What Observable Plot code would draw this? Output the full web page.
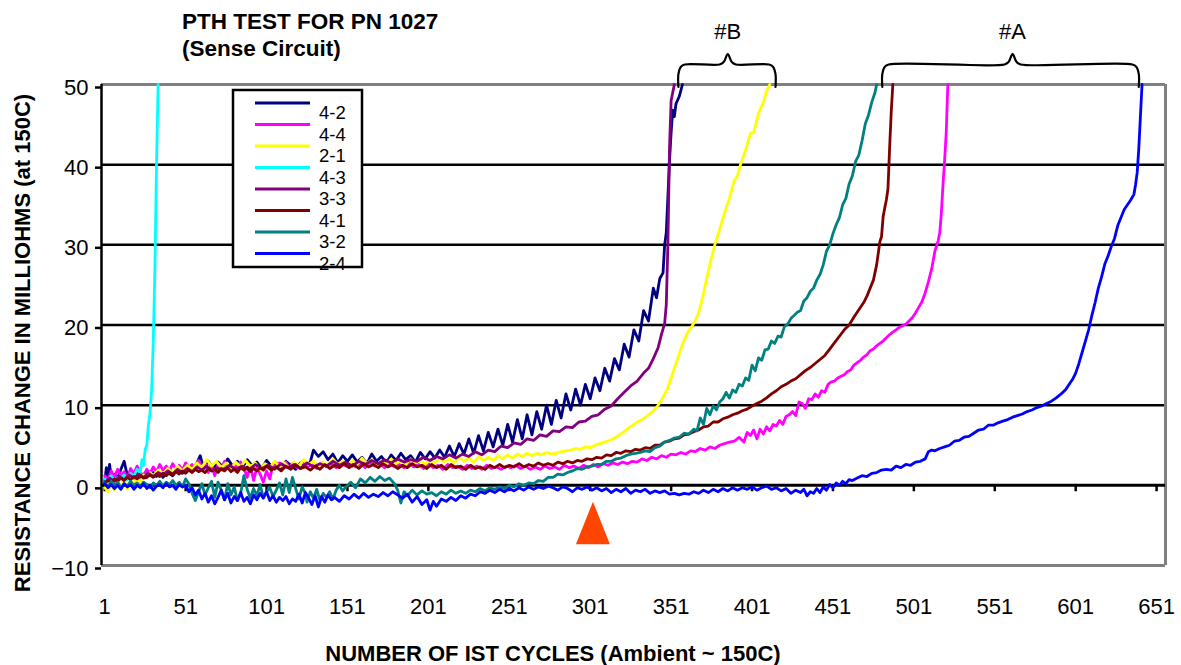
<!DOCTYPE html>
<html><head><meta charset="utf-8">
<script src="https://cdn.jsdelivr.net/npm/d3@7"></script>
<script src="https://cdn.jsdelivr.net/npm/@observablehq/plot@0.6"></script>
<style>
body{margin:0;background:#fff;}
#wrap{position:relative;width:1181px;height:665px;font-family:"Liberation Sans",Arial,sans-serif;}
#wrap svg{position:absolute;left:0;top:0;}
</style></head><body><div id="wrap"></div>
<script>
const seriesNames = ["4-2","4-4","2-1","4-3","3-3","4-1","3-2","2-4"];
const seriesColors = ["#000080","#FF00FF","#FFFF00","#00FFFF","#800080","#800000","#008080","#0000FF"];

const s42 = [[1,0.5],[2,2.2],[3,0.8],[4,2.6],[5,1.0],[7,1.4],[9,0.9],[11,2.0],[13,3.0],[15,1.2],[17,1.6],[19,1.0],[21,1.5],[23,0.9],[25,1.3],[27,1.8],[29,1.2],[31,1.6],[33,1.1],[35,1.5],[37,1.0],[40,1.6],[43,1.2],[46,2.0],[49,1.5],[52,2.4],[55,1.9],[58,2.8],[60,3.7],[62,2.2],[65,3.0],[68,2.0],[71,2.9],[74,2.3],[77,3.3],[80,2.4],[83,3.0],[86,2.2],[89,3.2],[92,2.5],[95,2.9],[98,2.1],[101,3.1],[104,2.4],[107,2.8],[110,2.2],[113,3.0],[116,2.5],[119,2.0],[122,2.8],[125,2.4],[128,2.9],[130,4.4],[133,3.6],[136,4.2],[139,3.2],[142,3.9],[145,2.8],[148,3.7],[151,3.0],[154,3.8],[157,2.9],[160,3.5],[163,2.7],[166,3.9],[169,3.0],[172,3.6],[175,2.8],[178,3.8],[181,3.1],[184,4.0],[187,3.2],[190,3.7],[193,2.9],[196,4.1],[199,3.3],[202,4.2],[205,3.4],[208,4.4],[211,3.5],[214,4.9],[217,3.6],[220,5.2],[223,3.9],[226,5.8],[229,4.0],[232,6.2],[235,4.3],[238,6.6],[241,4.8],[244,7.0],[247,5.0],[250,7.6],[253,5.4],[256,8.2],[259,5.8],[262,8.8],[265,6.3],[268,9.2],[271,7.0],[274,10.0],[277,7.6],[280,10.6],[283,8.4],[286,11.4],[289,9.4],[292,12.0],[295,10.0],[298,12.6],[301,10.8],[304,13.4],[307,11.8],[310,14.6],[313,13.0],[316,15.8],[319,14.4],[322,17.6],[325,16.0],[328,19.4],[331,18.0],[334,21.8],[337,20.5],[340,24.6],[342,23.4],[344,25.8],[346,26.5],[347,30.0],[348,31.5],[349,36.0],[350,40.5],[351,44.0],[352,46.8],[353,46.0],[354,47.6],[356,48.5],[358,50]];

const s44 = [[1,1.2],[3,0.6],[5,1.8],[7,1.0],[9,2.0],[11,1.2],[13,1.7],[15,0.9],[17,2.1],[19,1.4],[21,2.4],[23,1.6],[25,1.2],[27,2.0],[29,1.5],[31,2.3],[33,1.7],[35,2.6],[37,1.9],[39,2.4],[41,1.8],[43,2.7],[45,2.0],[47,2.5],[49,1.9],[51,2.8],[53,2.2],[55,2.6],[57,2.0],[59,3.1],[61,2.3],[63,2.8],[65,1.6],[67,2.5],[69,1.2],[71,2.7],[73,2.0],[75,3.0],[77,2.3],[79,1.8],[81,2.6],[83,2.1],[85,2.9],[87,2.2],[89,1.0],[91,2.5],[93,0.6],[95,2.2],[97,1.4],[99,0.4],[101,1.8],[103,0.8],[105,2.6],[107,2.2],[109,2.8],[111,2.3],[113,2.9],[115,2.1],[117,2.7],[120,2.2],[123,2.9],[126,2.3],[129,2.6],[132,2.1],[135,2.8],[138,2.3],[141,2.7],[144,2.2],[147,2.9],[150,2.4],[153,2.8],[156,2.3],[159,2.7],[162,2.2],[165,2.9],[168,2.4],[171,2.7],[174,2.2],[177,2.8],[180,2.3],[183,2.6],[186,2.2],[189,2.8],[192,2.3],[195,2.6],[198,2.1],[201,2.7],[204,2.2],[207,2.5],[210,2.0],[213,2.6],[216,2.2],[219,2.4],[222,2.0],[225,2.5],[228,2.1],[231,2.4],[234,2.0],[237,2.5],[240,2.1],[243,2.3],[246,2.0],[249,2.4],[252,2.2],[255,2.5],[258,2.1],[261,2.4],[264,2.0],[267,2.3],[270,2.0],[273,2.4],[276,2.1],[279,2.3],[282,2.0],[285,2.5],[288,2.2],[291,2.4],[294,2.1],[297,2.5],[300,2.2],[303,2.6],[306,2.3],[309,2.7],[312,2.5],[315,2.8],[318,2.6],[321,2.9],[324,2.7],[327,3.0],[330,2.9],[333,3.3],[336,3.1],[339,3.5],[342,3.3],[345,3.7],[348,3.5],[351,3.9],[354,3.8],[357,4.1],[360,3.9],[363,4.3],[366,4.2],[369,4.6],[372,4.4],[375,4.8],[378,4.6],[381,5.0],[384,5.2],[387,5.4],[390,5.5],[393,6.0],[396,5.4],[398,6.6],[400,6.2],[402,6.9],[404,5.8],[406,7.0],[408,6.4],[410,7.3],[412,6.8],[414,7.6],[416,7.4],[418,8.1],[420,7.6],[422,8.6],[424,8.8],[426,9.2],[428,8.7],[430,10.4],[432,10.2],[434,9.6],[436,10.8],[438,10.7],[440,11.4],[442,11.0],[444,11.8],[446,11.6],[448,12.6],[450,12.9],[452,13.0],[454,13.4],[456,13.6],[458,13.8],[460,14.2],[462,14.4],[464,15.0],[466,15.3],[468,15.6],[470,16.0],[472,16.3],[474,16.8],[476,17.0],[478,17.4],[480,17.7],[482,18.0],[484,18.4],[486,18.8],[488,19.1],[490,19.4],[492,19.7],[494,19.9],[496,20.1],[498,20.5],[500,20.9],[502,21.5],[504,22.2],[506,22.9],[508,24.0],[510,25.4],[512,27.0],[514,29.2],[516,30.5],[517,31.5],[518,34.0],[519,37.5],[520,40.5],[521,44.0],[522,50]];

const s21 = [[1,-0.3],[3,-0.8],[5,0.2],[7,-0.6],[9,0.5],[11,-0.2],[13,0.8],[15,-0.5],[17,0.6],[19,0.1],[21,1.0],[23,0.4],[25,1.3],[27,0.9],[29,1.6],[31,1.2],[34,1.9],[37,1.4],[40,2.1],[43,1.6],[46,2.4],[49,1.8],[52,2.5],[55,2.0],[58,2.8],[61,2.2],[64,3.2],[67,2.4],[70,3.0],[73,2.2],[76,2.8],[79,2.1],[82,2.9],[85,2.3],[88,3.1],[91,2.4],[94,2.8],[97,2.0],[100,2.7],[103,2.2],[106,3.0],[109,2.3],[112,2.8],[115,2.1],[118,2.9],[121,2.4],[124,3.2],[127,2.6],[130,3.0],[133,2.3],[136,2.9],[139,2.5],[142,3.3],[145,2.6],[148,3.0],[151,2.4],[154,3.1],[157,2.6],[160,3.4],[163,2.7],[166,3.2],[169,2.5],[172,3.0],[175,2.6],[178,3.3],[181,2.7],[184,3.1],[187,2.6],[190,3.3],[193,2.8],[196,3.1],[199,2.6],[202,3.2],[205,2.8],[208,3.4],[211,2.9],[214,3.3],[217,2.8],[220,3.5],[223,3.0],[226,3.4],[229,2.9],[232,3.6],[235,3.1],[238,3.5],[241,3.1],[244,3.7],[247,3.3],[250,3.8],[253,3.4],[256,3.9],[259,3.6],[262,4.0],[265,3.7],[268,4.0],[271,3.8],[274,4.1],[277,3.9],[280,4.0],[283,4.2],[286,4.3],[289,4.4],[292,4.6],[295,4.5],[298,4.8],[301,4.7],[304,5.0],[307,5.2],[310,5.4],[313,5.6],[316,5.9],[319,6.3],[322,6.7],[325,7.2],[328,7.6],[331,8.0],[334,8.3],[337,8.8],[340,9.3],[343,10.0],[346,11.0],[349,12.2],[352,14.0],[355,15.8],[358,17.6],[361,19.0],[363,19.6],[365,20.2],[368,21.5],[371,23.9],[373,25.8],[375,27.6],[378,30.0],[380,31.3],[382,32.6],[384,34.0],[387,35.8],[390,38.0],[392,38.6],[394,40.1],[397,41.8],[400,43.9],[402,44.0],[405,46.4],[408,47.8],[410,49.2],[412,50]];

const s43 = [[1,0.8],[3,0.5],[5,1.2],[7,0.6],[9,1.0],[11,0.9],[13,1.3],[15,0.7],[17,1.5],[19,1.1],[21,2.0],[23,1.6],[24,3.2],[25,2.5],[26,4.5],[27,5.0],[28,7.5],[29,9.0],[30,12.0],[31,18.0],[32,27.0],[33,40.0],[34,50]];

const s33 = [[1,0.3],[4,0.9],[7,0.5],[10,1.1],[13,0.7],[16,1.3],[19,0.9],[22,1.4],[25,1.0],[28,1.5],[31,1.1],[34,1.6],[37,1.3],[40,1.8],[43,1.4],[46,2.0],[49,1.6],[52,2.1],[55,1.7],[58,2.3],[61,1.9],[64,2.4],[67,1.8],[70,2.2],[74,1.9],[78,2.5],[82,2.0],[86,2.4],[90,1.9],[94,2.6],[98,2.1],[102,2.5],[106,2.0],[110,2.7],[114,2.2],[118,2.6],[122,2.1],[126,2.8],[130,2.3],[134,2.7],[138,2.4],[142,3.0],[146,2.5],[150,2.9],[154,2.4],[158,3.0],[162,2.6],[166,3.1],[170,2.7],[174,3.2],[178,2.8],[182,3.3],[186,2.9],[190,3.2],[194,3.0],[198,3.5],[202,3.1],[206,3.6],[210,3.3],[214,3.8],[218,3.4],[222,3.9],[226,3.6],[230,4.2],[234,3.8],[238,4.4],[242,4.2],[246,4.9],[250,4.7],[254,5.3],[258,5.1],[262,5.8],[266,5.6],[270,6.3],[274,6.1],[278,6.8],[282,6.7],[286,7.3],[290,7.2],[294,7.9],[298,8.0],[302,8.6],[306,8.8],[310,9.5],[314,9.9],[318,10.8],[322,11.6],[326,12.4],[330,13.0],[334,14.0],[337,14.6],[340,15.8],[343,17.2],[345,18.8],[347,20.2],[348,22.5],[349,30.0],[350,42.0],[351,48.0],[353,50]];

const s41 = [[1,0.3],[3,0.6],[5,0.4],[7,0.8],[9,0.5],[11,0.9],[13,0.6],[15,1.0],[17,0.7],[19,1.1],[21,0.8],[23,1.2],[25,0.9],[27,1.0],[29,1.3],[31,1.0],[33,1.4],[35,1.1],[37,1.5],[39,1.2],[41,1.6],[43,1.3],[45,1.7],[47,1.4],[49,1.8],[51,1.5],[53,1.9],[55,1.6],[57,2.0],[59,1.7],[61,1.9],[63,1.6],[65,2.1],[67,1.8],[69,2.0],[71,1.6],[73,2.1],[75,1.8],[77,2.2],[79,1.7],[81,2.0],[83,1.6],[85,2.2],[87,1.9],[89,2.3],[91,1.7],[93,2.1],[95,1.8],[97,2.2],[99,1.9],[101,2.4],[104,1.9],[107,2.3],[110,1.8],[113,2.4],[116,2.0],[119,2.6],[122,2.1],[125,2.3],[128,1.9],[131,2.4],[134,2.0],[137,2.6],[140,2.1],[143,2.5],[146,2.2],[149,2.7],[152,2.2],[155,2.6],[158,2.1],[161,2.7],[164,2.3],[167,2.6],[170,2.2],[173,2.7],[176,2.3],[179,2.6],[182,2.1],[185,2.5],[188,2.2],[191,2.7],[194,2.3],[197,2.5],[200,2.1],[203,2.6],[206,2.2],[209,2.5],[212,2.0],[215,2.6],[218,2.2],[221,2.4],[224,2.0],[227,2.5],[230,2.1],[233,2.3],[236,2.0],[239,2.5],[242,2.2],[245,2.6],[248,2.2],[251,2.5],[254,2.3],[257,2.7],[260,2.3],[263,2.6],[266,2.4],[269,2.8],[272,2.5],[275,2.7],[278,2.5],[281,2.9],[284,2.7],[287,3.0],[290,2.8],[293,3.1],[296,3.0],[299,3.3],[302,3.2],[305,3.5],[308,3.4],[311,3.8],[314,3.7],[317,4.1],[320,4.0],[323,4.3],[326,4.2],[329,4.5],[332,4.4],[335,4.7],[338,4.6],[341,5.0],[344,5.0],[347,5.4],[350,5.5],[353,5.8],[356,5.9],[359,6.3],[362,6.4],[365,6.7],[368,6.9],[371,7.3],[374,7.4],[377,7.9],[380,7.9],[383,8.3],[386,8.5],[389,8.8],[392,9.0],[395,9.3],[398,9.5],[401,9.9],[404,10.2],[407,10.5],[410,10.9],[413,11.4],[416,11.8],[419,12.3],[422,12.6],[425,13.0],[428,13.3],[431,13.8],[434,14.3],[437,14.7],[440,15.2],[443,15.7],[446,16.2],[449,17.0],[452,17.8],[455,18.6],[458,19.4],[461,20.0],[464,21.0],[467,21.9],[470,22.8],[472,23.6],[474,24.6],[476,25.6],[478,27.5],[480,30.4],[481,31.0],[482,33.5],[483,34.6],[484,35.6],[485,37.0],[486,42.0],[487,46.5],[488,50]];

const s32 = [[1,0.3],[3,-0.2],[5,0.5],[7,0.0],[9,0.4],[11,-0.3],[13,0.2],[15,-0.1],[17,0.5],[19,0.0],[21,0.3],[23,-0.2],[25,0.4],[27,0.1],[29,-0.3],[31,0.3],[33,0.0],[35,0.5],[37,-0.1],[39,0.4],[41,0.1],[43,0.6],[45,0.0],[47,0.4],[49,-0.2],[51,0.8],[53,0.2],[55,-1.0],[57,-1.9],[59,-0.8],[61,0.2],[63,-1.2],[65,-0.3],[67,0.5],[69,-1.5],[71,0.4],[73,-0.6],[75,-1.8],[77,0.2],[79,-1.2],[81,-0.2],[83,-1.9],[85,-1.0],[87,1.2],[89,-0.5],[91,-1.6],[93,-0.4],[95,-1.3],[97,0.1],[99,-1.5],[101,-0.8],[103,-0.3],[105,-1.4],[107,-0.6],[109,0.3],[111,-1.2],[113,0.8],[115,-0.9],[117,1.0],[119,-0.4],[121,-1.7],[123,-0.2],[125,-1.0],[126,-2.1],[128,-0.8],[130,-1.6],[132,-0.5],[134,-1.9],[136,-1.0],[138,-1.5],[140,-0.8],[142,-1.7],[144,-0.6],[146,0.0],[148,-0.7],[150,-0.2],[153,0.4],[156,-0.3],[159,0.8],[162,0.3],[165,1.0],[168,0.5],[171,1.1],[174,0.6],[177,0.9],[180,0.2],[182,-0.6],[184,-2.2],[186,-0.8],[188,-1.3],[191,-0.6],[194,-1.2],[197,-0.7],[200,-1.1],[203,-0.9],[206,-1.3],[209,-0.8],[212,-1.1],[215,-0.6],[218,-1.0],[221,-0.7],[224,-1.0],[227,-0.6],[230,-0.8],[233,-0.4],[236,-0.7],[239,-0.3],[242,-0.5],[245,-0.2],[248,-0.4],[251,0.0],[254,-0.2],[257,0.2],[260,0.0],[263,0.3],[266,0.2],[269,0.6],[272,0.5],[275,1.0],[278,1.0],[281,1.4],[284,1.3],[287,1.6],[290,1.8],[293,2.1],[296,2.0],[299,2.3],[302,2.4],[305,2.6],[308,2.6],[311,3.0],[314,3.0],[317,3.3],[320,3.4],[323,3.7],[326,3.9],[329,4.0],[332,4.1],[335,4.3],[338,4.2],[341,4.7],[344,4.9],[347,5.4],[350,5.6],[353,5.9],[356,6.0],[359,6.5],[362,6.4],[365,7.0],[367,6.8],[369,8.4],[371,7.6],[373,9.6],[375,8.8],[377,9.9],[379,9.4],[381,10.4],[383,10.8],[385,11.6],[387,10.9],[389,11.9],[391,11.6],[393,12.6],[395,12.4],[397,13.4],[399,13.1],[401,15.0],[403,14.3],[405,15.9],[407,15.6],[409,16.9],[411,17.0],[413,18.0],[415,17.7],[417,18.6],[419,18.5],[421,19.8],[423,20.1],[425,20.8],[427,21.2],[429,21.6],[431,21.8],[433,23.0],[435,23.4],[437,24.2],[439,24.6],[441,25.6],[443,26.3],[445,27.5],[447,29.2],[449,30.0],[451,31.4],[453,32.5],[455,33.4],[457,35.0],[459,35.8],[461,37.6],[463,38.6],[465,40.4],[467,41.2],[469,43.0],[471,45.1],[473,46.2],[475,47.8],[477,49.0],[478,50]];

const s24 = [[1,0.2],[3,-0.3],[5,0.1],[7,-0.4],[9,0.0],[11,-0.5],[13,0.2],[15,-0.2],[17,0.1],[19,-0.5],[21,0.0],[23,-0.3],[25,0.2],[27,-0.4],[29,0.0],[31,-0.6],[33,-0.1],[35,0.1],[37,-0.3],[39,0.2],[41,-0.2],[43,0.0],[45,-0.5],[47,0.1],[49,-0.2],[51,0.0],[53,-0.8],[55,-0.3],[57,-1.2],[59,-0.6],[61,-1.7],[63,-1.0],[65,-2.1],[67,-1.3],[69,-2.3],[71,-1.5],[73,-0.6],[75,-1.8],[77,-1.0],[79,-2.2],[81,-1.4],[83,-1.9],[85,-0.9],[87,-2.0],[89,-1.5],[91,-2.3],[93,-1.2],[95,-1.8],[97,-1.0],[99,-1.6],[101,-0.8],[103,-1.9],[105,-1.3],[107,-2.1],[109,-1.5],[111,-1.9],[113,-1.4],[115,-2.3],[117,-1.7],[119,-2.0],[121,-1.1],[123,-2.2],[125,-0.9],[127,-1.6],[129,-2.4],[131,-1.3],[133,-2.7],[135,-1.4],[137,-2.1],[139,-1.2],[141,-1.8],[143,-1.5],[146,-2.0],[149,-1.3],[152,-1.7],[155,-1.1],[158,-1.6],[161,-1.0],[164,-1.5],[167,-1.1],[170,-1.4],[173,-0.9],[176,-1.3],[179,-0.8],[182,-1.2],[185,-1.6],[188,-1.1],[191,-2.1],[194,-1.4],[197,-2.4],[200,-1.8],[202,-3.1],[204,-2.0],[206,-2.6],[209,-1.7],[212,-2.0],[215,-1.5],[218,-1.9],[221,-1.3],[224,-1.6],[227,-1.1],[230,-1.3],[233,-0.8],[236,-1.0],[239,-0.6],[242,-0.9],[245,-0.5],[248,-0.8],[251,-0.4],[254,-0.7],[257,-0.3],[260,-0.6],[263,-0.2],[266,-0.5],[269,-0.2],[272,-0.4],[275,-0.1],[278,-0.3],[281,-0.6],[284,-0.2],[287,-0.4],[290,-0.8],[293,-0.3],[296,-0.5],[299,-0.2],[302,-0.6],[305,-0.3],[308,-0.7],[311,-0.4],[314,-0.9],[317,-0.5],[320,-0.8],[323,-0.4],[326,-1.0],[329,-0.6],[332,-0.8],[335,-0.5],[338,-1.0],[341,-0.7],[344,-0.9],[347,-0.7],[350,-1.1],[353,-1.0],[356,-1.2],[359,-1.0],[362,-1.1],[365,-0.8],[368,-1.0],[371,-0.6],[374,-0.9],[377,-0.5],[380,-0.8],[383,-0.4],[386,-0.7],[389,-0.3],[392,-0.6],[395,-0.3],[398,-0.5],[401,-0.2],[404,-0.6],[407,-0.3],[410,-0.1],[413,-0.5],[416,-0.3],[419,-0.7],[422,-0.4],[425,-1.0],[428,-0.6],[431,-0.9],[433,-0.5],[435,-1.3],[437,-0.8],[439,-1.0],[441,-0.4],[443,-0.9],[445,-0.2],[447,-0.6],[449,0.1],[451,-0.3],[453,0.3],[455,0.0],[457,0.5],[459,0.2],[461,0.7],[463,0.6],[466,0.9],[469,1.2],[472,1.1],[475,1.5],[478,1.6],[481,1.9],[484,2.0],[487,1.9],[490,2.4],[493,2.2],[496,2.6],[499,2.5],[502,2.9],[505,3.0],[508,3.3],[510,4.2],[512,4.4],[514,4.3],[517,4.6],[520,4.8],[523,5.0],[526,5.5],[529,5.6],[532,6.0],[535,6.1],[538,6.5],[541,6.9],[544,7.0],[547,7.5],[550,7.5],[553,7.8],[556,8.0],[559,8.2],[562,8.5],[565,8.7],[568,8.9],[571,9.2],[574,9.4],[577,9.7],[580,9.9],[583,10.2],[586,10.5],[589,10.9],[592,11.4],[595,12.0],[597,12.6],[599,13.2],[601,14.0],[603,15.2],[605,16.6],[607,18.0],[609,19.4],[611,21.2],[613,22.8],[615,24.6],[617,26.0],[619,27.6],[621,28.6],[623,29.8],[625,30.8],[627,32.4],[629,33.4],[631,34.4],[633,35.0],[635,35.6],[637,36.3],[638,37.5],[639,39.0],[640,42.0],[641,46.0],[642,50]];

const seriesData = [s42, s44, s21, s43, s33, s41, s32, s24];
const xTicks = [1,51,101,151,201,251,301,351,401,451,501,551,601,651];
const yTicks = [-10,0,10,20,30,40,50];
const gridValues = [10,20,30,40];
const braces = [{label:"#B", from:355.5, to:415.5, peak:386},{label:"#A", from:481.5, to:640, peak:562}];
const markerCycle = [303];
const titleLines = ["PTH TEST FOR PN 1027","(Sense Circuit)"];
const xLabel = "NUMBER OF IST CYCLES (Ambient ~ 150C)";
const yLabel = "RESISTANCE CHANGE IN MILLIOHMS (at 150C)";

const FONT = '"Liberation Sans", Arial, Helvetica, sans-serif';
const X0 = -1, X1 = 656.5, Y0 = -10, Y1 = 50;

const rows = [];
seriesData.forEach((arr, i) => arr.forEach(([c, v]) => rows.push({series: seriesNames[i], cycle: c, value: v})));

// brace outline built from the brace spans
const bracePts = [];
braces.forEach(b => {
  const shape = [[b.from,49.7],[b.from,51.3],[b.from+1.5,52.2],[b.from+4,52.5],[b.peak-5,52.5],[b.peak-2.5,52.8],[b.peak,53.8],[b.peak+2.5,52.8],[b.peak+5,52.5],[b.to-4,52.5],[b.to-1.5,52.2],[b.to,51.3],[b.to,49.7]];
  shape.forEach(([x,y]) => bracePts.push({label:b.label, x, y}));
});

// triangle marker
const tri = markerCycle.flatMap(c => [{x:c-10.5, y1:-7.4, y2:-7.4},{x:c, y1:-2.1, y2:-7.4},{x:c+10.5, y1:-7.4, y2:-7.4}]);

const chart = Plot.plot({
  width: 1181, height: 665,
  marginLeft: 101, marginRight: 16, marginTop: 84, marginBottom: 100,
  x: {domain: [X0, X1]},
  y: {domain: [Y0, Y1]},
  color: {domain: seriesNames, range: seriesColors},
  style: {fontFamily: FONT, fontSize: "22px", color: "black", background: "white", overflow: "visible"},
  marks: [
    Plot.ruleY(gridValues, {stroke: "black", strokeWidth: 2.5}),
    Plot.ruleY([Y1, Y0], {stroke: "#808080", strokeWidth: 3}),
    Plot.ruleX([X1], {stroke: "#808080", strokeWidth: 3}),
    Plot.ruleY([0], {stroke: "black", strokeWidth: 3}),
    Plot.ruleX(xTicks, {y1: 0, y2: -0.8, stroke: "black", strokeWidth: 2.5}),
    Plot.areaY(tri, {x: "x", y1: "y1", y2: "y2", fill: "#FF4500"}),
    Plot.line(rows, {x: "cycle", y: "value", z: "series", stroke: "series", strokeWidth: 2.8, strokeLinejoin: "round"}),
    Plot.ruleX([X0], {stroke: "black", strokeWidth: 2.5}),
    Plot.line(bracePts, {x: "x", y: "y", z: "label", stroke: "black", strokeWidth: 2.2, curve: "catmull-rom"}),
    Plot.text(braces, {x: "peak", y: 56.5, text: "label", fontSize: 22, fill: "black"}),
    Plot.axisY({ticks: yTicks, tickSize: 6, tickPadding: 7, fontSize: 22, strokeWidth: 2.5, label: null, dy: 3}),
    Plot.axisX({ticks: xTicks, tickSize: 0, tickPadding: 33, fontSize: 22, label: null})
  ]
});

const wrap = document.getElementById("wrap");
wrap.appendChild(chart);

// overlay: titles, axis titles, legend
const ov = d3.create("svg").attr("width", 1181).attr("height", 665)
  .style("font-family", FONT).style("pointer-events", "none");
ov.selectAll("text.title").data(titleLines).join("text").attr("class", "title")
  .attr("x", 182).attr("y", (d, i) => 29 + i * 27)
  .attr("font-weight", "bold").attr("font-size", 22.5).text(d => d);
ov.append("text").attr("x", 553).attr("y", 661).attr("text-anchor", "middle")
  .attr("font-weight", "bold").attr("font-size", 22).text(xLabel);
ov.append("text").attr("transform", "translate(30,343) rotate(-90)").attr("text-anchor", "middle")
  .attr("font-weight", "bold").attr("font-size", 22).text(yLabel);
const lg = ov.append("g");
lg.append("rect").attr("x", 233).attr("y", 90).attr("width", 129).attr("height", 177)
  .attr("fill", "white").attr("stroke", "black").attr("stroke-width", 2.5);
seriesNames.forEach((n, i) => {
  const y = 103 + i * 21.5;
  lg.append("line").attr("x1", 255).attr("x2", 310).attr("y1", y).attr("y2", y)
    .attr("stroke", seriesColors[i]).attr("stroke-width", 3);
  lg.append("text").attr("x", 319).attr("y", y + 16).attr("font-size", 18.5).text(n);
});
wrap.appendChild(ov.node());
</script></body></html>
